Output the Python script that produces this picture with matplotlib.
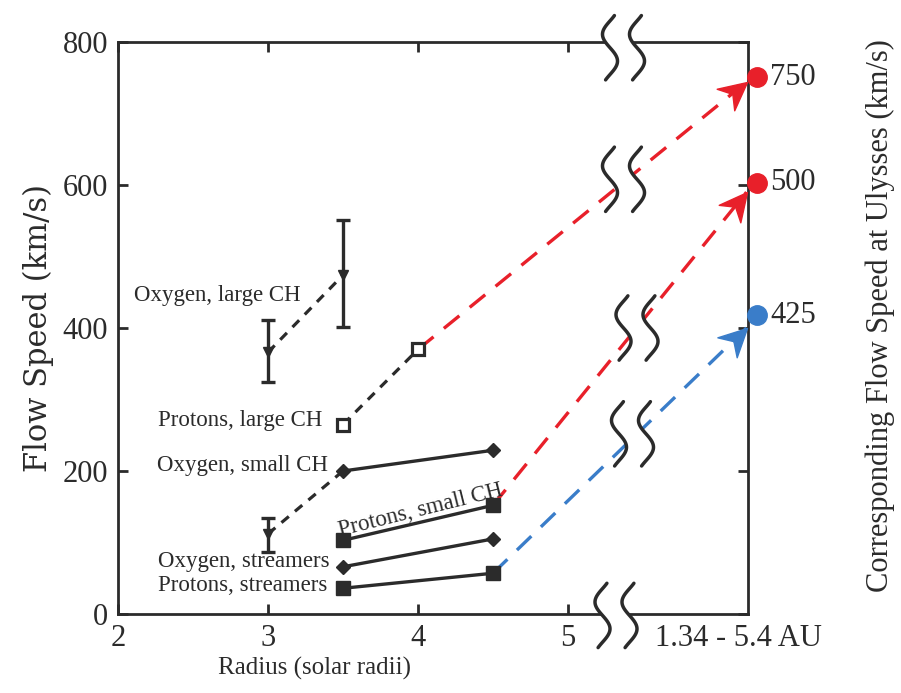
import numpy as np
import matplotlib
matplotlib.use('Agg')
import matplotlib.pyplot as plt
from matplotlib.path import Path
from matplotlib.markers import MarkerStyle
from matplotlib.transforms import Affine2D

plt.rcParams['font.family'] = ['Liberation Serif', 'DejaVu Serif']

# data
r_pair = [3.5, 4.5]
oxy_small = [200, 229]
prot_small = [103, 152]
oxy_stream = [66, 105]
prot_stream = [36, 57]

oxy_large_r = [3.0, 3.5]
oxy_large_v = [366, 474]
oxy_large_lo = [324, 401]
oxy_large_hi = [411, 551]

oxy_small_lim_r = [3.0, 3.5]
oxy_small_lim_v = [112, 200]
oxy_small_lim_lo = [87]
oxy_small_lim_hi = [134]

prot_large_r = [3.5, 4.0]
prot_large_v = [265, 370]

ext_start_r = [4.0, 4.5, 4.5]
ext_start_v = [370, 152, 57]
ext_tip_r = 6.19
ext_tip_v = [744, 590, 400]
ext_colors = ['#e8202a', '#e8202a', '#3a7dc9']

ulysses_labels = ['750', '500', '425']
ulysses_pos = [751, 603, 418]
dot_r = 6.26

# break symbols (x, y centre in data units)
breaks = [(5.37, 792), (5.37, 608), (5.46, 400), (5.43, 252), (5.32, -2)]

dark = '#2b2b2b'

fig = plt.figure(figsize=(9.01, 6.93), dpi=100)
ax = fig.add_axes([118/901, 1-614/693, (748-118)/901, (614-42)/693])
ax.set_xlim(2, 6.2)
ax.set_ylim(0, 800)

for sp in ax.spines.values():
    sp.set_linewidth(2.0)
    sp.set_color(dark)

ax.set_xticks([2, 3, 4, 5])
ax.set_yticks([0, 200, 400, 600, 800])
ax.tick_params(direction='in', top=True, right=True, length=7, width=2,
               color=dark, labelsize=22, labelcolor=dark, pad=7)

# solid pairs
ax.plot(r_pair, oxy_small, '-', color=dark, lw=2.4, marker='D', ms=7.5, zorder=4)
ax.plot(r_pair, prot_small, '-', color=dark, lw=2.4, marker='s', ms=10, zorder=4)
ax.plot(r_pair, oxy_stream, '-', color=dark, lw=2.4, marker='D', ms=7.5, zorder=4)
ax.plot(r_pair, prot_stream, '-', color=dark, lw=2.4, marker='s', ms=10, zorder=4)

# dashed black
ax.plot(oxy_large_r, oxy_large_v, '--', color=dark, lw=2.3, dashes=(3, 2.5), zorder=3)
ax.errorbar(oxy_large_r, oxy_large_v,
            yerr=[np.subtract(oxy_large_v, oxy_large_lo), np.subtract(oxy_large_hi, oxy_large_v)],
            fmt='v', ms=7, color=dark, ecolor=dark, elinewidth=2.4, capsize=5, capthick=2.4, zorder=4)
ax.plot(oxy_small_lim_r, oxy_small_lim_v, '--', color=dark, lw=2.3, dashes=(3, 2.5), zorder=3)
ax.errorbar(oxy_small_lim_r[:1], oxy_small_lim_v[:1],
            yerr=[np.subtract(oxy_small_lim_v[:1], oxy_small_lim_lo), np.subtract(oxy_small_lim_hi, oxy_small_lim_v[:1])],
            fmt='v', ms=7, color=dark, ecolor=dark, elinewidth=2.4, capsize=5, capthick=2.4, zorder=4)
ax.plot(prot_large_r, prot_large_v, '--', color=dark, lw=2.3, dashes=(3, 2.5),
        marker='s', ms=9, mfc='white', mec=dark, mew=2.3, zorder=4)

# extrapolation to Ulysses
fig.canvas.draw()
head = Path([(0, 0), (-1, 0.5), (-0.68, 0), (-1, -0.5), (0, 0)],
            [Path.MOVETO, Path.LINETO, Path.LINETO, Path.LINETO, Path.CLOSEPOLY])
for r0, v0, v1, c in zip(ext_start_r, ext_start_v, ext_tip_v, ext_colors):
    ax.plot([r0, ext_tip_r], [v0, v1], color=c, lw=2.4, dashes=(6, 4), zorder=2)
    p0 = ax.transData.transform((r0, v0))
    p1 = ax.transData.transform((ext_tip_r, v1))
    ang = np.degrees(np.arctan2(p1[1]-p0[1], p1[0]-p0[0]))
    m = MarkerStyle(head, transform=Affine2D().rotate_deg(ang))
    ax.plot([ext_tip_r], [v1], marker=m, ms=40, color=c, mec=c, ls='none', zorder=6, clip_on=False)

for lab, v, c in zip(ulysses_labels, ulysses_pos, ext_colors):
    ax.plot([dot_r], [v], 'o', ms=14, color=c, zorder=7, clip_on=False)
    ax.text(dot_r + 0.09, v, lab, fontsize=22, color=dark, va='center', ha='left', clip_on=False)

# break marks
s = np.linspace(0, 1, 80)
amp, h, sep = 0.05, 90, 0.09
for xc, yc in breaks:
    ys = yc + h/2 - h*s
    xa = xc - sep - amp*np.sin(2*np.pi*(s*1.2 - 0.1))
    xb = xc + sep - amp*np.sin(2*np.pi*(s*1.2 - 0.1))
    ax.fill_betweenx(ys, xa, xb, color='white', lw=0, zorder=8, clip_on=False)
    ax.plot(xa, ys, color=dark, lw=2.5, zorder=9, clip_on=False, solid_capstyle='round')
    ax.plot(xb, ys, color=dark, lw=2.5, zorder=9, clip_on=False, solid_capstyle='round')

# series labels
fs = 16.5
ax.text(2.11, 446, 'Oxygen, large CH', fontsize=fs, color=dark, va='center')
ax.text(2.27, 270, 'Protons, large CH', fontsize=fs, color=dark, va='center')
ax.text(2.26, 207, 'Oxygen, small CH', fontsize=fs, color=dark, va='center')
ax.text(4.02, 145, 'Protons, small CH', fontsize=fs, color=dark, va='center', ha='center', rotation=14)
ax.text(2.27, 73, 'Oxygen, streamers', fontsize=fs, color=dark, va='center')
ax.text(2.27, 40, 'Protons, streamers', fontsize=fs, color=dark, va='center')
ax.text(5.58, -34, '1.34 - 5.4 AU', fontsize=22, color=dark, va='center', clip_on=False)

fig.text(315/901, 1-668/693, 'Radius (solar radii)', fontsize=18, color=dark, ha='center', va='center')
fig.text(38/901, 1-328/693, 'Flow Speed (km/s)', fontsize=22, color=dark, ha='center', va='center',
         rotation=90, family=['DejaVu Serif'])
fig.text(880/901, 1-316/693, 'Corresponding Flow Speed at Ulysses (km/s)', fontsize=22, color=dark,
         ha='center', va='center', rotation=90, family=['Liberation Serif'])

fig.savefig('out.png', dpi=100)
